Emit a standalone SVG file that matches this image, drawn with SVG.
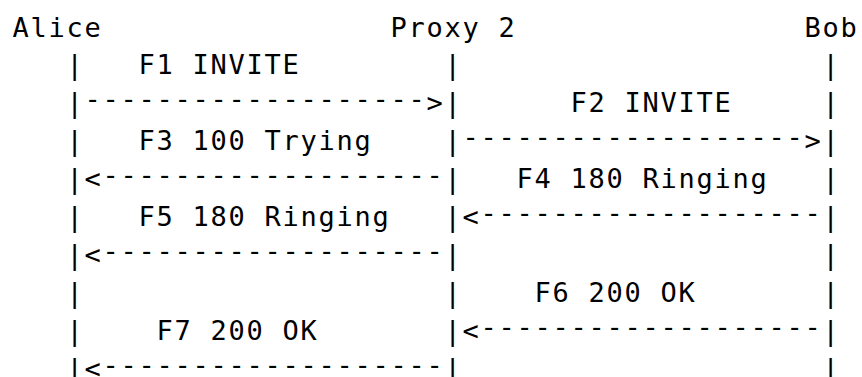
<svg xmlns="http://www.w3.org/2000/svg" width="862" height="377" viewBox="0 0 862 377">
<style>
text{font-family:"DejaVu Sans Mono","Liberation Mono",monospace;font-size:27px;letter-spacing:1.75px;fill:#000;white-space:pre}
</style>
<rect width="862" height="377" fill="#fff"/>
<g id="alice"><text x="12.5" y="36.5">Alice</text></g>
<g id="proxy2"><text x="390.5" y="36.5">Proxy 2</text></g>
<g id="bob"><text x="804.5" y="36.5">Bob</text></g>
<g id="lifelines">
<text x="66.5" y="74.4">|</text><text x="444.5" y="74.4">|</text><text x="822.5" y="74.4">|</text>
<text x="66.5" y="112.3">|</text><text x="444.5" y="112.3">|</text><text x="822.5" y="112.3">|</text>
<text x="66.5" y="150.2">|</text><text x="444.5" y="150.2">|</text><text x="822.5" y="150.2">|</text>
<text x="66.5" y="188.1">|</text><text x="444.5" y="188.1">|</text><text x="822.5" y="188.1">|</text>
<text x="66.5" y="226">|</text><text x="444.5" y="226">|</text><text x="822.5" y="226">|</text>
<text x="66.5" y="263.9">|</text><text x="444.5" y="263.9">|</text><text x="822.5" y="263.9">|</text>
<text x="66.5" y="301.8">|</text><text x="444.5" y="301.8">|</text><text x="822.5" y="301.8">|</text>
<text x="66.5" y="339.7">|</text><text x="444.5" y="339.7">|</text><text x="822.5" y="339.7">|</text>
<text x="66.5" y="377.6">|</text><text x="444.5" y="377.6">|</text><text x="822.5" y="377.6">|</text>
</g>
<g id="connectors">
<text id="f1" x="84.5" y="112.3"><tspan dy="-4">-------------------</tspan><tspan dy="4">&gt;</tspan></text>
<text id="f2" x="462.5" y="150.2"><tspan dy="-4">-------------------</tspan><tspan dy="4">&gt;</tspan></text>
<text id="f3" x="84.5" y="188.1">&lt;<tspan dy="-4">-------------------</tspan></text>
<text id="f4" x="462.5" y="226">&lt;<tspan dy="-4">-------------------</tspan></text>
<text id="f5" x="84.5" y="263.9">&lt;<tspan dy="-4">-------------------</tspan></text>
<text id="f6" x="462.5" y="339.7">&lt;<tspan dy="-4">-------------------</tspan></text>
<text id="f7" x="84.5" y="377.6">&lt;<tspan dy="-4">-------------------</tspan></text>
</g>
<g id="labels">
<text x="138.5" y="74.4">F1 INVITE</text>
<text x="570.5" y="112.3">F2 INVITE</text>
<text x="138.5" y="150.2">F3 100 Trying</text>
<text x="516.5" y="188.1">F4 180 Ringing</text>
<text x="138.5" y="226">F5 180 Ringing</text>
<text x="534.5" y="301.8">F6 200 OK</text>
<text x="156.5" y="339.7">F7 200 OK</text>
</g>
</svg>
